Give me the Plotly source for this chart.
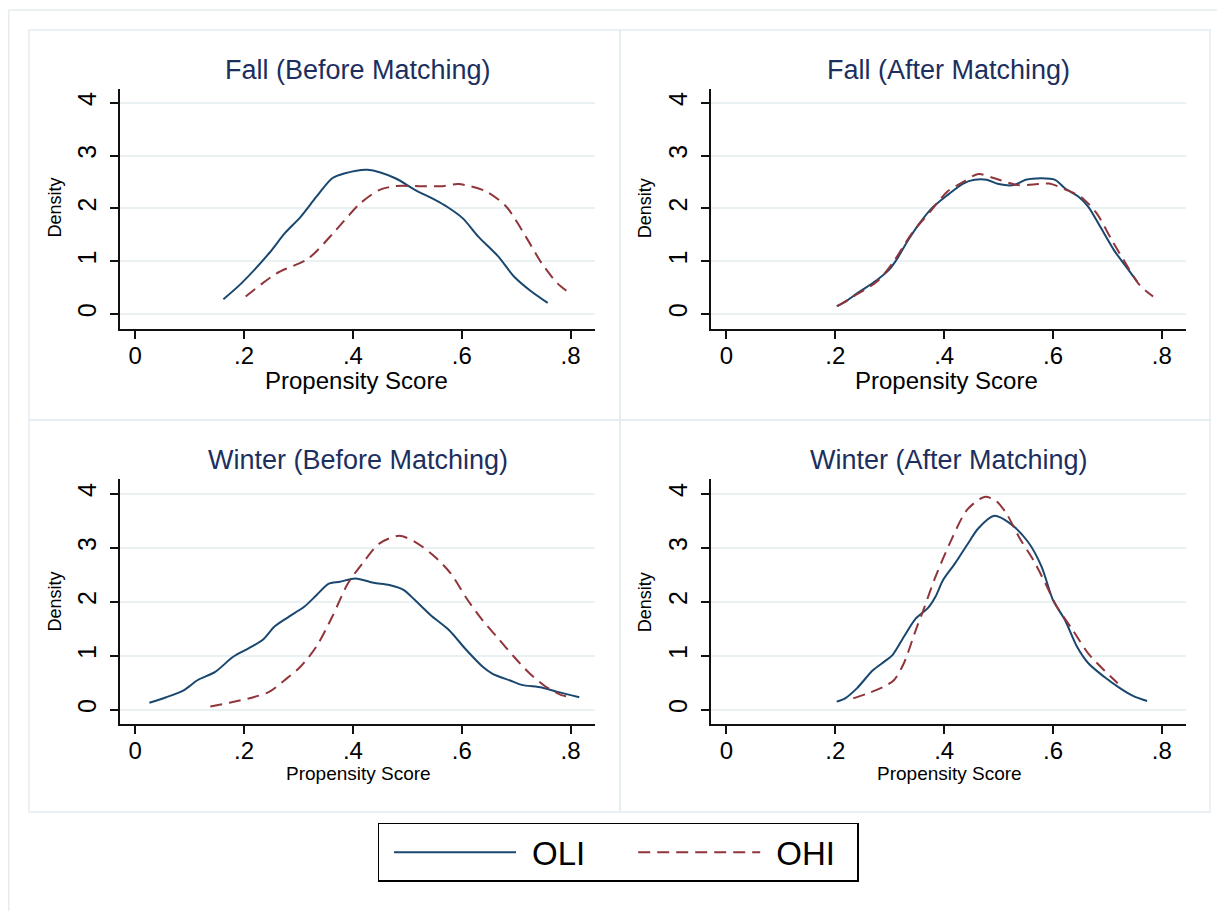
import plotly.graph_objects as go

# Browser body has an 8px margin: figure is sized/positioned to compensate.
OFF = 8
W, H = 1217, 903

# ---------------- data ----------------
tick_x_vals = [0, 0.2, 0.4, 0.6, 0.8]
tick_x_text = ["0", ".2", ".4", ".6", ".8"]
tick_y_vals = [0, 1, 2, 3, 4]

panel_titles = ["Fall (Before Matching)", "Fall (After Matching)",
                "Winter (Before Matching)", "Winter (After Matching)"]
series_names = ["OLI", "OHI"]

fall_before_oli_x = [0.162, 0.195, 0.246, 0.275, 0.304, 0.333, 0.362, 0.384, 0.427, 0.478, 0.514, 0.551, 0.573, 0.602, 0.631, 0.667, 0.696, 0.725, 0.758]
fall_before_oli_y = [0.28, 0.58, 1.15, 1.53, 1.84, 2.22, 2.57, 2.66, 2.73, 2.57, 2.35, 2.16, 2.03, 1.81, 1.46, 1.09, 0.71, 0.45, 0.21]
fall_before_ohi_x = [0.203, 0.260, 0.318, 0.369, 0.413, 0.449, 0.478, 0.522, 0.565, 0.594, 0.645, 0.682, 0.718, 0.747, 0.776, 0.798]
fall_before_ohi_y = [0.33, 0.77, 1.05, 1.59, 2.09, 2.35, 2.42, 2.42, 2.42, 2.46, 2.32, 2.03, 1.46, 0.96, 0.58, 0.40]

fall_after_oli_x = [0.2025, 0.218, 0.240, 0.276, 0.298, 0.312, 0.334, 0.355, 0.377, 0.406, 0.435, 0.456, 0.478, 0.500, 0.528, 0.550, 0.579, 0.604, 0.622, 0.647, 0.665, 0.687, 0.712, 0.734, 0.755]
fall_after_oli_y = [0.15, 0.23, 0.39, 0.64, 0.83, 1.02, 1.40, 1.72, 2.00, 2.25, 2.47, 2.54, 2.54, 2.46, 2.44, 2.54, 2.57, 2.54, 2.38, 2.22, 2.03, 1.65, 1.21, 0.90, 0.61]
fall_after_ohi_x = [0.204, 0.233, 0.276, 0.305, 0.341, 0.377, 0.406, 0.435, 0.463, 0.492, 0.535, 0.564, 0.593, 0.622, 0.651, 0.680, 0.708, 0.737, 0.759, 0.784]
fall_after_ohi_y = [0.15, 0.33, 0.61, 0.96, 1.53, 1.97, 2.32, 2.50, 2.65, 2.57, 2.44, 2.45, 2.47, 2.36, 2.22, 1.91, 1.40, 0.90, 0.55, 0.33]

winter_before_oli_x = [0.026, 0.057, 0.089, 0.115, 0.147, 0.180, 0.209, 0.235, 0.256, 0.282, 0.311, 0.333, 0.355, 0.376, 0.405, 0.438, 0.467, 0.493, 0.514, 0.543, 0.576, 0.609, 0.638, 0.656, 0.689, 0.710, 0.747, 0.776, 0.816]
winter_before_oli_y = [0.13, 0.23, 0.36, 0.55, 0.70, 0.98, 1.14, 1.30, 1.54, 1.72, 1.91, 2.12, 2.33, 2.37, 2.43, 2.35, 2.31, 2.22, 2.03, 1.75, 1.48, 1.10, 0.80, 0.67, 0.54, 0.46, 0.41, 0.33, 0.23]
winter_before_ohi_x = [0.138, 0.173, 0.217, 0.246, 0.275, 0.304, 0.333, 0.362, 0.391, 0.420, 0.449, 0.485, 0.514, 0.551, 0.580, 0.609, 0.638, 0.667, 0.696, 0.725, 0.754, 0.783, 0.798]
winter_before_ohi_y = [0.06, 0.13, 0.23, 0.33, 0.55, 0.80, 1.17, 1.72, 2.34, 2.74, 3.08, 3.22, 3.11, 2.83, 2.52, 2.06, 1.66, 1.32, 0.98, 0.67, 0.43, 0.27, 0.24]

winter_after_oli_x = [0.2025, 0.218, 0.240, 0.269, 0.290, 0.305, 0.326, 0.348, 0.370, 0.384, 0.398, 0.420, 0.442, 0.463, 0.492, 0.521, 0.554, 0.579, 0.600, 0.622, 0.644, 0.665, 0.694, 0.723, 0.748, 0.773]
winter_after_oli_y = [0.15, 0.21, 0.40, 0.73, 0.89, 1.01, 1.35, 1.69, 1.88, 2.09, 2.40, 2.71, 3.05, 3.36, 3.59, 3.45, 3.11, 2.65, 2.03, 1.66, 1.17, 0.86, 0.61, 0.40, 0.25, 0.16]
winter_after_ohi_x = [0.233, 0.262, 0.290, 0.308, 0.326, 0.348, 0.362, 0.384, 0.413, 0.442, 0.474, 0.495, 0.514, 0.539, 0.564, 0.586, 0.607, 0.636, 0.665, 0.694, 0.719]
winter_after_ohi_y = [0.21, 0.31, 0.43, 0.55, 0.86, 1.48, 1.85, 2.46, 3.14, 3.70, 3.94, 3.87, 3.64, 3.17, 2.77, 2.34, 1.91, 1.48, 1.04, 0.73, 0.49]

# ---------------- styling ----------------
OLI_COLOR = "#1a476f"
OHI_COLOR = "#90353b"
TITLE_COLOR = "#1c2f5e"
GRID = "#e9f1f3"
BORDER = "#e4ecef"
FONT = "Liberation Sans, Arial, sans-serif"


def px_x(p):
    return (p - OFF) / W


def px_y(p):
    return 1 - (p - OFF) / H


fig = go.Figure()

panels = [
    (fall_before_oli_x, fall_before_oli_y, fall_before_ohi_x, fall_before_ohi_y),
    (fall_after_oli_x, fall_after_oli_y, fall_after_ohi_x, fall_after_ohi_y),
    (winter_before_oli_x, winter_before_oli_y, winter_before_ohi_x, winter_before_ohi_y),
    (winter_after_oli_x, winter_after_oli_y, winter_after_ohi_x, winter_after_ohi_y),
]

legend_labels = ["\u2004" + series_names[0] + "\u2003", "\u2004" + series_names[1] + "\u2002"]

for i, (ox, oy, hx, hy) in enumerate(panels):
    xa = "x" if i == 0 else f"x{i+1}"
    ya = "y" if i == 0 else f"y{i+1}"
    fig.add_trace(go.Scatter(x=ox, y=oy, mode="lines", name=legend_labels[0],
                             line=dict(color=OLI_COLOR, width=2, shape="spline", smoothing=0.8),
                             xaxis=xa, yaxis=ya, showlegend=(i == 0), legendrank=1))
    fig.add_trace(go.Scatter(x=hx, y=hy, mode="lines", name=legend_labels[1],
                             line=dict(color=OHI_COLOR, width=2, dash="12px,7px", shape="spline", smoothing=0.8),
                             xaxis=xa, yaxis=ya, showlegend=(i == 0), legendrank=2))

# axis geometry (screen pixels)
x_dom = {0: (120.2, 595.1), 1: (711.2, 1185.7)}
x_rng = {0: [-0.0276, 0.8451], 1: [-0.0281, 0.8439]}
y_dom = {0: (329.3, 88.7), 1: (724.3, 479.3)}
y_rng = {0: [-0.2896, 4.265], 1: [-0.2704, 4.2667]}

layout_axes = {}
for i in range(4):
    col = i % 2
    row = i // 2
    xk = "xaxis" if i == 0 else f"xaxis{i+1}"
    yk = "yaxis" if i == 0 else f"yaxis{i+1}"
    ya_ref = "y" if i == 0 else f"y{i+1}"
    xa_ref = "x" if i == 0 else f"x{i+1}"
    layout_axes[xk] = dict(
        domain=[px_x(x_dom[col][0]), px_x(x_dom[col][1])], range=x_rng[col],
        anchor=ya_ref, tickvals=tick_x_vals, ticktext=tick_x_text,
        showgrid=False, zeroline=False, showline=True, linecolor="#111111", linewidth=1.5,
        ticks="outside", ticklen=8, tickwidth=1.5, tickcolor="#111111",
        tickfont=dict(size=24, color="#000000", family=FONT), ticklabelstandoff=-4,
        fixedrange=True)
    layout_axes[yk] = dict(
        domain=[px_y(y_dom[row][0]), px_y(y_dom[row][1])], range=y_rng[row],
        anchor=xa_ref, tickvals=tick_y_vals, tickangle=-90,
        showgrid=True, gridcolor=GRID, gridwidth=1.5, zeroline=False,
        showline=True, linecolor="#111111", linewidth=1.5,
        ticks="outside", ticklen=8, tickwidth=1.5, tickcolor="#111111",
        tickfont=dict(size=25, color="#000000", family=FONT), ticklabelstandoff=4,
        fixedrange=True)

annotations = []
title_pos = [(357.9, 70), (948.2, 70), (357.8, 460), (948.8, 460)]
for (cx, cy), t in zip(title_pos, panel_titles):
    annotations.append(dict(text=t, x=px_x(cx), y=px_y(cy), xref="paper", yref="paper",
                            xanchor="center", yanchor="middle", showarrow=False,
                            font=dict(size=27, color=TITLE_COLOR, family=FONT)))
dens_pos = [(54.5, 208), (645.3, 208), (54.5, 602), (645.3, 602)]
for cx, cy in dens_pos:
    annotations.append(dict(text="Density", x=px_x(cx), y=px_y(cy), xref="paper", yref="paper",
                            xanchor="center", yanchor="middle", showarrow=False, textangle=-90,
                            font=dict(size=18, color="#000000", family=FONT)))
ps_pos = [(356, 380, 24), (946.9, 380, 24), (358.2, 773, 19), (949.2, 773, 19)]
for cx, cy, fs in ps_pos:
    annotations.append(dict(text="Propensity Score", x=px_x(cx), y=px_y(cy), xref="paper", yref="paper",
                            xanchor="center", yanchor="middle", showarrow=False,
                            font=dict(size=fs, color="#000000", family=FONT)))

shapes = []
# outer frame (top and left visible)
shapes.append(dict(type="line", xref="paper", yref="paper", x0=px_x(8.8), x1=1, y0=px_y(10), y1=px_y(10),
                   line=dict(color=BORDER, width=1.5), layer="below"))
shapes.append(dict(type="line", xref="paper", yref="paper", x0=px_x(8.8), x1=px_x(8.8), y0=px_y(10), y1=0,
                   line=dict(color=BORDER, width=1.5), layer="below"))
# panel frames
for (x0, x1) in [(29, 620), (620, 1210)]:
    for (y0, y1) in [(30, 420), (420, 812)]:
        shapes.append(dict(type="rect", xref="paper", yref="paper",
                           x0=px_x(x0), x1=px_x(x1), y0=px_y(y0), y1=px_y(y1),
                           line=dict(color=BORDER, width=1.5), fillcolor="rgba(0,0,0,0)", layer="below"))

fig.update_layout(
    width=W, height=H, margin=dict(l=0, r=0, t=0, b=0),
    paper_bgcolor="white", plot_bgcolor="white",
    font=dict(family=FONT),
    annotations=annotations, shapes=shapes,
    showlegend=True,
    legend=dict(orientation="h", x=px_x(377.5), xanchor="left", y=px_y(822.7), yanchor="top",
                bordercolor="#000000", borderwidth=1.5, bgcolor="white",
                font=dict(size=33, color="#000000", family=FONT),
                itemwidth=122, indentation=10, traceorder="normal"),
    **layout_axes,
)

fig.write_html("out.html")
